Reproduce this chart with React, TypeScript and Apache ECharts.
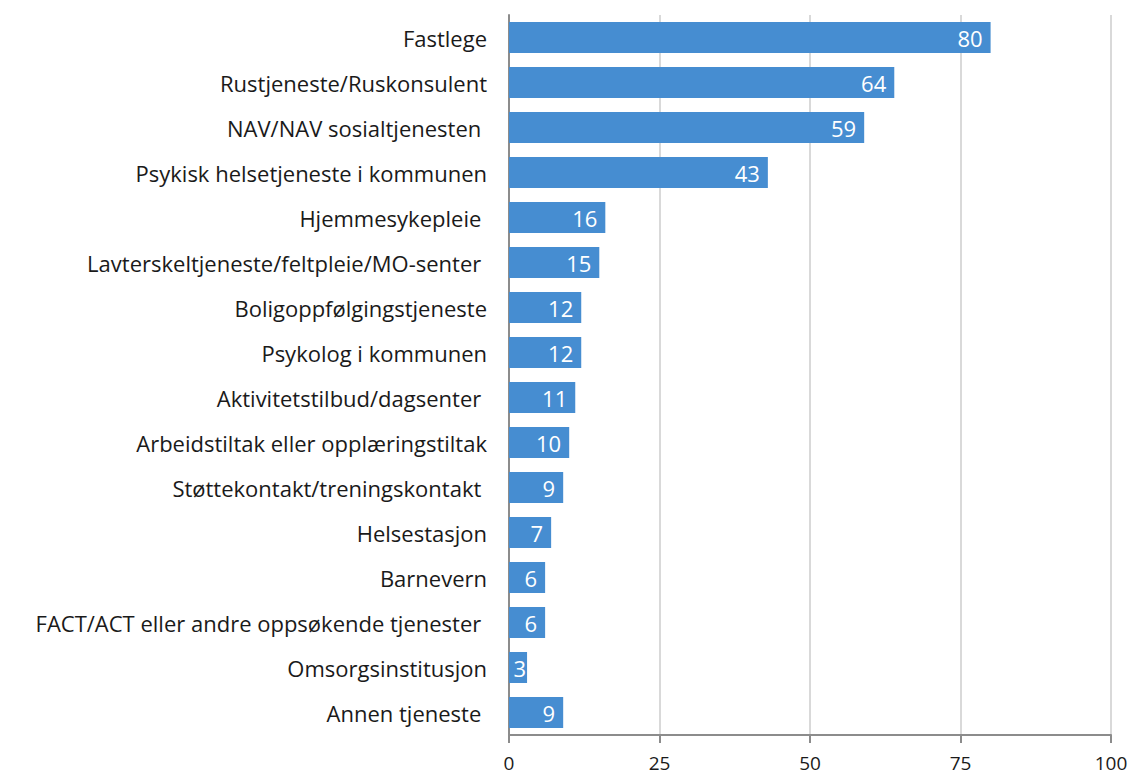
import React, { useEffect, useRef } from "react";
import * as echarts from "echarts";

const categories = [
  "Fastlege",
  "Rustjeneste/Ruskonsulent",
  "NAV/NAV sosialtjenesten ",
  "Psykisk helsetjeneste i kommunen",
  "Hjemmesykepleie ",
  "Lavterskeltjeneste/feltpleie/MO-senter ",
  "Boligoppfølgingstjeneste",
  "Psykolog i kommunen",
  "Aktivitetstilbud/dagsenter ",
  "Arbeidstiltak eller opplæringstiltak",
  "Støttekontakt/treningskontakt ",
  "Helsestasjon",
  "Barnevern",
  "FACT/ACT eller andre oppsøkende tjenester ",
  "Omsorgsinstitusjon",
  "Annen tjeneste ",
];
const values = [80, 64, 59, 43, 16, 15, 12, 12, 11, 10, 9, 7, 6, 6, 3, 9];
const xTicks = [0, 25, 50, 75, 100];

const FONT = "'Open Sans', sans-serif";

export default function App() {
  const ref = useRef<HTMLDivElement>(null);
  useEffect(() => {
    if (!ref.current) return;
    document.body.style.margin = "0";
    document.body.style.overflow = "hidden";
    const chart = echarts.init(ref.current, undefined, { renderer: "svg" });
    chart.setOption({
      animation: false,
      grid: {
        left: 509,
        right: 24,
        top: 15,
        bottom: 39,
        containLabel: false,
        outerBoundsMode: "none",
      },
      xAxis: {
        type: "value",
        min: xTicks[0],
        max: xTicks[xTicks.length - 1],
        interval: 25,
        axisLine: { show: true, lineStyle: { color: "#8c8c8c", width: 2 } },
        axisTick: { show: true, length: 8, lineStyle: { color: "#8c8c8c", width: 2 } },
        axisLabel: { color: "#1a1a1a", fontSize: 19, fontFamily: FONT, margin: 18 },
        splitLine: { show: true, lineStyle: { color: "#d9d9d9", width: 2 } },
      },
      yAxis: {
        type: "category",
        inverse: true,
        data: categories,
        axisLine: { show: true, lineStyle: { color: "#8c8c8c", width: 2 } },
        axisTick: { show: false },
        axisLabel: { color: "#1a1a1a", fontSize: 22, fontFamily: FONT, margin: 22 },
      },
      series: [
        {
          type: "bar",
          data: values.map((v) =>
            v < 5 ? { value: v, label: { distance: 1 } } : v
          ),
          barWidth: "69%",
          itemStyle: { color: "#468dd1" },
          label: {
            show: true,
            position: "insideRight",
            distance: 8,
            color: "#ffffff",
            fontSize: 22,
            fontFamily: FONT,
          },
        },
      ],
    });
    return () => chart.dispose();
  }, []);
  return <div ref={ref} style={{ width: 1135, height: 774 }} />;
}
